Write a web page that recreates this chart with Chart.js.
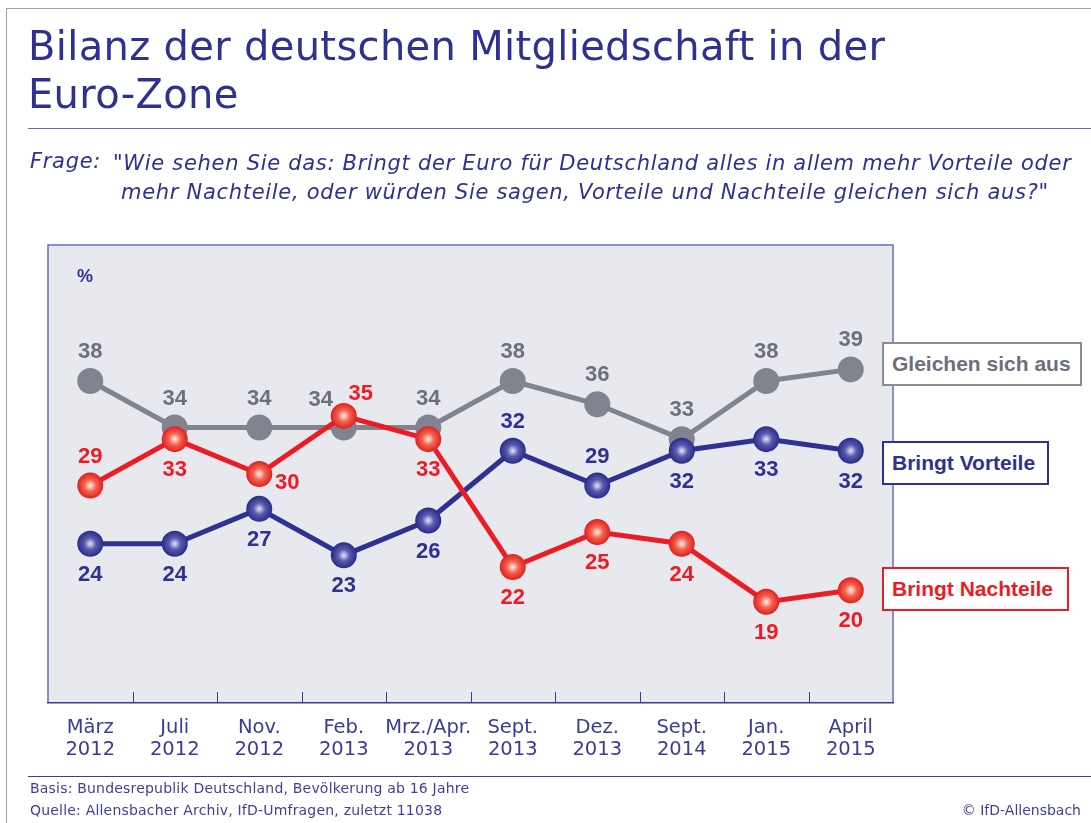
<!DOCTYPE html>
<html>
<head>
<meta charset="utf-8">
<script src="https://cdn.jsdelivr.net/npm/chart.js@4.4.1/dist/chart.umd.min.js"></script>
<style>
  body { margin: 0; width: 1091px; height: 823px; position: relative; overflow: hidden; background: #fff;
         font-family: "DejaVu Sans", sans-serif; color: #2e3192; }
  #frame { position: absolute; left: 6px; top: 8px; right: -2px; bottom: -2px; border-left: 1px solid #a0a0a8; border-top: 1px solid #a0a0a8; }
  #title { position: absolute; left: 28px; top: 22px; font-size: 40px; line-height: 48px; letter-spacing: 0.33px; color: #2e3192; white-space: nowrap; }
  #rule1 { position: absolute; left: 28px; right: 0; top: 128px; border-top: 1px solid #6a6ab4; }
  #frage { position: absolute; left: 30px; top: 149px; font-size: 21px; font-style: italic; letter-spacing: 0.7px; color: #2e3192; }
  #quote { position: absolute; left: 121px; top: 149px; font-size: 21px; font-style: italic; line-height: 29px; letter-spacing: 0.7px; color: #2e3192; text-indent: -8px; white-space: nowrap; }
  #rule2 { position: absolute; left: 28px; right: 0; top: 776px; border-top: 1.5px solid #3b3b98; }
  .foot { position: absolute; font-size: 14px; letter-spacing: 0.2px; color: #3f3f9c; white-space: nowrap; }
  .leg { position: absolute; box-sizing: border-box; height: 44px; background: #fff; font-family: "Liberation Sans", sans-serif; font-weight: bold; font-size: 21px; line-height: 40px; padding-left: 8px; white-space: nowrap; }
  #c { position: absolute; left: 0; top: 0; }
</style>
</head>
<body>
<div id="frame"></div>
<canvas id="c" width="1091" height="823"></canvas>
<div id="title">Bilanz der deutschen Mitgliedschaft in der<br>Euro-Zone</div>
<div id="rule1"></div>
<div id="frage">Frage:</div>
<div id="quote">"Wie sehen Sie das: Bringt der Euro für Deutschland alles in allem mehr Vorteile oder<br>mehr Nachteile, oder würden Sie sagen, Vorteile und Nachteile gleichen sich aus?"</div>
<div class="leg" style="left:882px;top:342px;width:200px;border:2px solid #8a8d99;color:#6d707c;">Gleichen sich aus</div>
<div class="leg" style="left:882px;top:441px;width:167px;border:2px solid #2e3192;color:#2e3192;">Bringt Vorteile</div>
<div class="leg" style="left:882px;top:567px;width:187px;border:2px solid #ed1c24;color:#ed1c24;">Bringt Nachteile</div>
<div id="rule2"></div>
<div class="foot" style="left:30px;top:780px;">Basis: Bundesrepublik Deutschland, Bevölkerung ab 16 Jahre</div>
<div class="foot" style="left:30px;top:802px;">Quelle: Allensbacher Archiv, IfD-Umfragen, zuletzt 11038</div>
<div class="foot" style="right:10px;top:802px;letter-spacing:0;">© IfD-Allensbach</div>
<script>
const labels = [
  ['März', '2012'], ['Juli', '2012'], ['Nov.', '2012'], ['Feb.', '2013'], ['Mrz./Apr.', '2013'],
  ['Sept.', '2013'], ['Dez.', '2013'], ['Sept.', '2014'], ['Jan.', '2015'], ['April', '2015']
];
const gleichen = [38, 34, 34, 34, 34, 38, 36, 33, 38, 39];
const vorteile = [24, 24, 27, 23, 26, 32, 29, 32, 33, 32];
const nachteile = [29, 33, 30, 35, 33, 22, 25, 24, 19, 20];

// where each value label sits relative to its point
const gleichenPos = ['top', 'top', 'top', 'topLeft', 'top', 'top', 'top', 'top', 'top', 'top'];
const vorteilePos = ['bottom', 'bottom', 'bottom', 'bottom', 'bottom', 'top', 'top', 'bottom', 'bottom', 'bottom'];
const nachteilePos = ['top', 'bottom', 'right', 'topRight', 'bottom', 'bottom', 'bottom', 'bottom', 'bottom', 'bottom'];

const offsets = {
  top: [0, -29], bottom: [0, 31], right: [28, 9], topRight: [17, -22], topLeft: [-23, -28]
};

const GRAY = '#81848f';
const BLUE = '#2e3192';
const RED = '#ed1c24';

Chart.defaults.font.family = '"DejaVu Sans", sans-serif';

const plotArea = {
  id: 'plotArea',
  beforeDraw(chart) {
    const { ctx, chartArea: a } = chart;
    const x = chart.scales.x;
    ctx.save();
    ctx.fillStyle = '#e8e8ef';
    ctx.fillRect(a.left, a.top, a.width, a.height);
    ctx.strokeStyle = '#6c6cb4';
    ctx.lineWidth = 1.5;
    ctx.beginPath();
    ctx.moveTo(a.left, a.bottom);
    ctx.lineTo(a.left, a.top);
    ctx.lineTo(a.right, a.top);
    ctx.lineTo(a.right, a.bottom);
    ctx.stroke();
    ctx.strokeStyle = '#3b3b98';
    ctx.lineWidth = 1;
    ctx.beginPath();
    for (let i = 1; i < labels.length; i++) {
      const px = Math.round((x.getPixelForValue(i - 1) + x.getPixelForValue(i)) / 2) + 0.5;
      ctx.moveTo(px, a.bottom);
      ctx.lineTo(px, a.bottom - 11);
    }
    ctx.stroke();
    ctx.fillStyle = BLUE;
    ctx.font = 'bold 18px "Liberation Sans"';
    ctx.textAlign = 'center';
    ctx.textBaseline = 'middle';
    ctx.fillText('%', 85, 277);
    ctx.restore();
  }
};

const balls = {
  id: 'balls',
  afterDatasetDraw(chart, args) {
    const ds = chart.data.datasets[args.index];
    const ctx = chart.ctx;
    ctx.save();
    args.meta.data.forEach(pt => {
      const r = 13;
      if (ds.sphere) {
        const g = ctx.createRadialGradient(pt.x, pt.y, 0, pt.x, pt.y, r);
        g.addColorStop(0, ds.sphere[0]);
        g.addColorStop(0.45, ds.sphere[1]);
        g.addColorStop(1, ds.sphere[2]);
        ctx.fillStyle = g;
      } else {
        ctx.fillStyle = ds.borderColor;
      }
      ctx.beginPath();
      ctx.arc(pt.x, pt.y, r, 0, Math.PI * 2);
      ctx.fill();
    });
    ctx.restore();
  },
  afterDatasetsDraw(chart) {
    const ctx = chart.ctx;
    ctx.save();
    ctx.font = 'bold 22px "Liberation Sans"';
    ctx.textAlign = 'center';
    ctx.textBaseline = 'middle';
    chart.data.datasets.forEach((ds, i) => {
      const meta = chart.getDatasetMeta(i);
      ctx.fillStyle = ds.labelColor;
      meta.data.forEach((pt, j) => {
        const o = offsets[ds.labelPos[j]];
        ctx.fillText(String(ds.data[j]), pt.x + o[0], pt.y + o[1]);
      });
    });
    ctx.restore();
  }
};

new Chart(document.getElementById('c'), {
  type: 'line',
  data: {
    labels: labels,
    datasets: [
      { label: 'Bringt Nachteile', data: nachteile, borderColor: RED, labelColor: RED, labelPos: nachteilePos,
        sphere: ['#fff1ec', '#f4644f', '#de2020'] },
      { label: 'Bringt Vorteile', data: vorteile, borderColor: BLUE, labelColor: BLUE, labelPos: vorteilePos,
        sphere: ['#e6e6f6', '#5a5ab0', '#282b86'] },
      { label: 'Gleichen sich aus', data: gleichen, borderColor: GRAY, labelColor: '#6d707c', labelPos: gleichenPos }
    ]
  },
  options: {
    responsive: false,
    devicePixelRatio: 1,
    animation: false,
    layout: { padding: { left: 48, right: 198, top: 245, bottom: 60 } },
    elements: {
      line: { borderWidth: 5, tension: 0, fill: false },
      point: { radius: 0, hoverRadius: 0 }
    },
    plugins: { legend: { display: false }, tooltip: { enabled: false } },
    scales: {
      y: { display: false, min: 10.3, max: 49.7 },
      x: {
        offset: true,
        grid: { display: false },
        border: { color: '#3b3b98', width: 1.5 },
        afterFit(scale) { scale.height = 60; },
        ticks: { color: '#3b3b98', font: { size: 19.5, lineHeight: 1.13 }, padding: 6, maxRotation: 0, autoSkip: false }
      }
    }
  },
  plugins: [plotArea, balls]
});
</script>
</body>
</html>
